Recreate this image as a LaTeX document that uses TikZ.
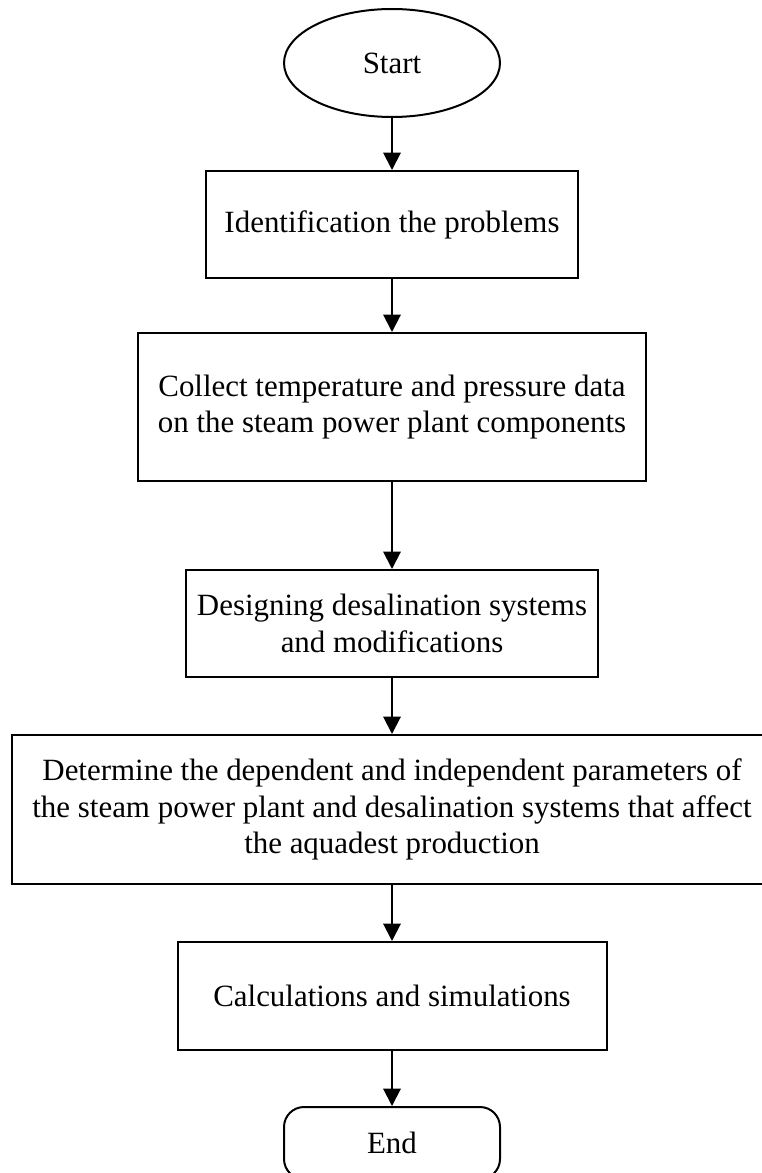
\documentclass[tikz,border=0pt]{standalone}
\usepackage{fontspec}
\setmainfont{Liberation Serif}
\usetikzlibrary{shapes.geometric, arrows.meta, positioning}

\begin{document}
\begin{tikzpicture}[x=0.75pt, y=-0.75pt,
    every node/.style={font=\fontsize{23.2}{27.5}\selectfont, align=center, inner sep=0pt},
    procbox/.style={draw, line width=1.5pt, rectangle},
    termoval/.style={draw, line width=1.5pt, ellipse},
    termround/.style={draw, line width=1.5pt, rounded corners=15pt},
    flow/.style={-{Triangle[length=13pt, width=13pt]}, line width=1.5pt}]
    \useasboundingbox (0,0) rectangle (761,1173);
    % terminals and steps
    \node[termoval, minimum width=162pt, minimum height=81pt] (start) at (392,63) {Start};
    \node[procbox, minimum width=279pt, minimum height=80.25pt] (ident) at (392,224.5)
        {Identification the problems};
    \node[procbox, minimum width=381pt, minimum height=111pt] (collect) at (392,407)
        {Collect temperature and pressure data\\on the steam power plant components};
    \node[procbox, minimum width=309pt, minimum height=80.25pt] (design) at (392,623.5)
        {Designing desalination systems\\and modifications};
    \node[procbox, minimum width=570pt, minimum height=111.75pt] (params) at (392,809.5)
        {Determine the dependent and independent parameters of\\the steam power plant and desalination systems that affect\\the aquadest production};
    \node[procbox, minimum width=321.75pt, minimum height=81pt] (calc) at (392,996)
        {Calculations and simulations};
    \node[termround, minimum width=162pt, minimum height=54pt] (stop) at (392,1143) {End};
    % connectors
    \draw[flow] (start) -- (ident);
    \draw[flow] (ident) -- (collect);
    \draw[flow] (collect) -- (design);
    \draw[flow] (design) -- (params);
    \draw[flow] (params) -- (calc);
    \draw[flow] (calc) -- (stop);
\end{tikzpicture}
\end{document}
